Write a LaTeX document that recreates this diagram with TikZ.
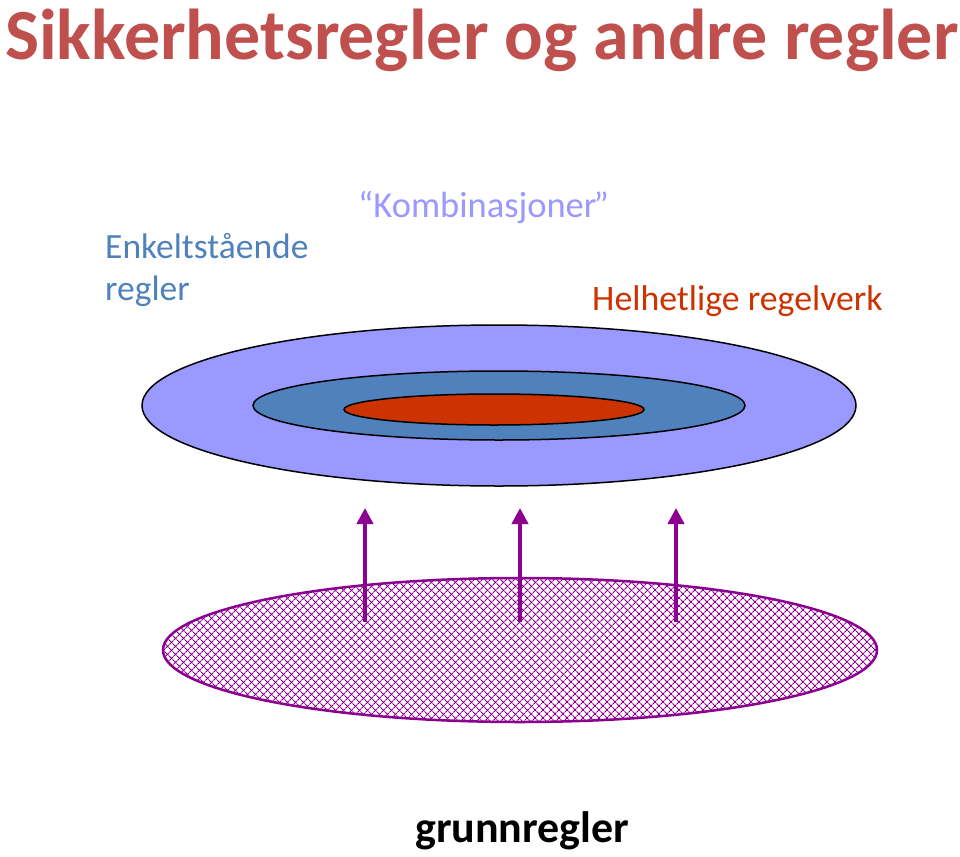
\documentclass[tikz,border=0pt]{standalone}
\usepackage{fontspec}
\setmainfont{Carlito}
\usepackage{tikz}
\usetikzlibrary{shapes.geometric}
\usetikzlibrary{arrows.meta}
\usetikzlibrary{patterns.meta}

\definecolor{titlered}{RGB}{192,80,77}
\definecolor{singleblue}{RGB}{79,129,189}
\definecolor{combolilac}{RGB}{153,153,255}
\definecolor{wholered}{RGB}{204,51,0}
\definecolor{basepurple}{RGB}{140,0,145}

\begin{document}
\begin{tikzpicture}[x=1pt,y=-1pt,>={Triangle[length=16pt,width=16pt]}]
\useasboundingbox[fill=white] (0,0) rectangle (960,856);
%Title
  \node[anchor=base west,inner sep=0,text=titlered,font=\fontsize{72}{80}\selectfont\bfseries] (title) at (5,60) {Sikkerhetsregler og andre regler};

%Labels over the rings
  \node[anchor=base west,inner sep=0,text=singleblue,align=left,font=\fontsize{35.5}{42}\selectfont] (single) at (105,300) {Enkeltstående\\regler};
  \node[anchor=base west,inner sep=0,text=combolilac,font=\fontsize{36.5}{42}\selectfont] (combo) at (358,217) {“Kombinasjoner\kern-3pt”};
  \node[anchor=base west,inner sep=0,text=wholered,font=\fontsize{35.8}{42}\selectfont] (whole) at (592,310) {Helhetlige regelverk};

%Draw the three rings
  \node[draw,ellipse,line width=1.5pt,fill=combolilac,minimum width=714pt,minimum height=161pt,inner sep=0] (outer) at (499,405.5) {};
  \node[draw,ellipse,line width=1.5pt,fill=singleblue,minimum width=492pt,minimum height=69pt,inner sep=0] (middle) at (499,405.5) {};
  \node[draw,ellipse,line width=1.5pt,fill=wholered,minimum width=300pt,minimum height=31pt,inner sep=0] (inner) at (494,409.5) {};

%Hatched base
  \coordinate (base) at (520,650);
  \path[pattern={Lines[angle=-45,distance=5.4pt,line width=1.2pt]},pattern color=basepurple] (base) ellipse [x radius=357,y radius=72];
  \node[draw=basepurple,ellipse,line width=2.5pt,pattern={Lines[angle=45,distance=5.4pt,line width=1.2pt]},pattern color=basepurple,minimum width=714pt,minimum height=144pt,inner sep=0] (grunn) at (base) {};

  \foreach \x [count=\i] in {365,520,676}{
    \coordinate (s\i) at (\x,622);
    \coordinate (t\i) at (\x,508);
    \draw [->,line width=4.5pt,basepurple](s\i) -- (t\i);
  }

  \node[anchor=base west,inner sep=0,font=\fontsize{44}{50}\selectfont\bfseries] (grunnlabel) at (415,842) {grunnregler};
\end{tikzpicture}
\end{document}
